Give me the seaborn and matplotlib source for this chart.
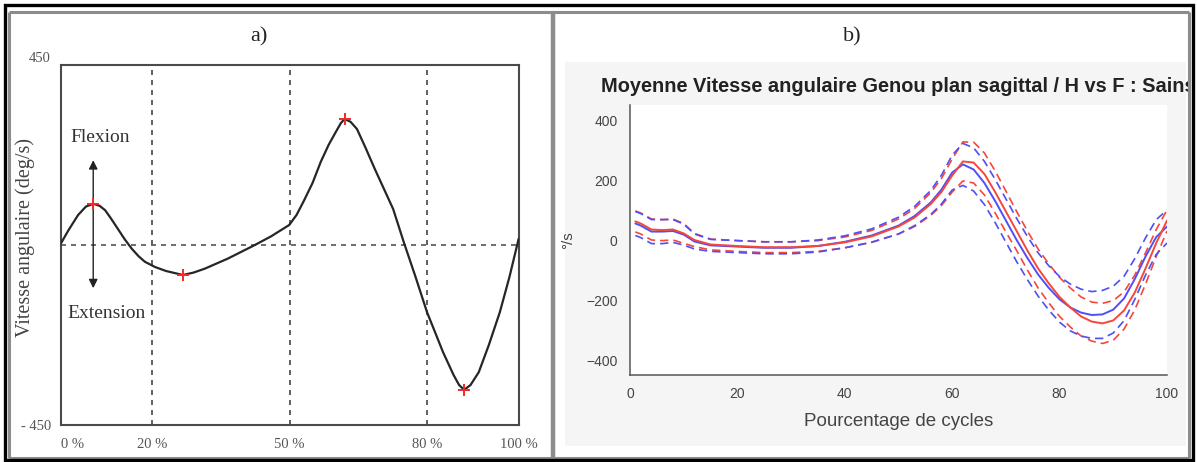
import matplotlib
matplotlib.use("Agg")
import matplotlib.pyplot as plt
import numpy as np
import seaborn as sns
from matplotlib.patches import Rectangle
from matplotlib.lines import Line2D
from matplotlib.transforms import Bbox, TransformedBbox

# ---------------- panel a) : schematic knee angular velocity ----------------
cycle_a = [0, 1.7, 3.8, 5.5, 7.1, 8.5, 9.7, 11, 12.5, 14, 15.5, 17, 18.4, 20.6, 23,
           26.7, 29, 31.5, 36.5, 42.4, 46, 49.9, 51.5, 53.0, 55, 56.8, 58.5, 60.1,
           61.2, 62.0, 63.3, 64.7, 66.5, 68.6, 70.6, 72.6, 74.9, 77.5, 80.0, 82,
           83.5, 85.8, 87, 88.1, 89.5, 91.3, 93.5, 95.9, 98, 100]
vel_a = [3, 37, 75, 96, 103, 98, 87, 66, 40, 14, -9, -28, -42, -55, -65,
         -75, -69, -59, -34, 0, 22, 50, 75, 108, 155, 208, 250, 283,
         305, 315, 308, 290, 245, 190, 140, 90, 8, -80, -168, -225,
         -268, -325, -350, -362, -350, -318, -250, -168, -80, 15]
peaks_x = [7.1, 26.7, 62.0, 88.1]
peaks_y = [103, -75, 315, -362]
phase_lines = [20, 50, 80]
xticks_a = [0, 20, 50, 80, 100]
xlabels_a = ["0 %", "20 %", "50 %", "80 %", "100 %"]
yticks_a = [450, -450]
ylabels_a = ["450", "- 450"]

# ---------------- panel b) : mean ± SD, men vs women ----------------
cycle_b = [1, 2, 4, 6, 8, 10, 12, 15, 20, 25, 30, 35, 40, 45, 50, 53, 56, 58, 60,
           62, 64, 66, 68, 70, 72, 74, 76, 78, 80, 82, 84, 86, 88, 90, 92, 94,
           96, 98, 100]
mean_red = [62, 55, 35, 33, 35, 22, 0, -15, -20, -24, -24, -20, -8, 12, 45, 75,
            120, 160, 215, 262, 258, 220, 160, 95, 30, -35, -95, -145, -190,
            -225, -255, -272, -278, -268, -235, -175, -95, -10, 65]
sd_red = [35, 35, 35, 35, 35, 33, 22, 18, 18, 18, 18, 18, 18, 20, 25, 30, 38, 45,
          55, 65, 68, 70, 70, 68, 65, 65, 65, 65, 65, 65, 65, 65, 67, 66, 62, 58,
          52, 45, 35]
mean_blue = [55, 48, 28, 28, 30, 18, -5, -18, -22, -26, -26, -20, -6, 15, 48, 80,
             125, 168, 225, 252, 235, 190, 130, 65, 0, -60, -115, -160, -198,
             -225, -242, -250, -248, -232, -195, -130, -55, 10, 45]
sd_blue = [40, 40, 40, 40, 38, 35, 25, 20, 20, 20, 20, 20, 20, 22, 28, 32, 40, 48,
           58, 70, 72, 72, 72, 72, 72, 72, 72, 74, 76, 78, 78, 78, 80, 78, 74, 68,
           62, 58, 55]
xticks_b = [0, 20, 40, 60, 80, 100]
yticks_b = [-400, -200, 0, 200, 400]

RED = "#f5473a"
BLUE = "#4f4ff5"

W, H = 1197, 462
sns.set_style("white")
plt.rcParams["font.family"] = ["Liberation Serif", "DejaVu Serif"]

fig = plt.figure(figsize=(W / 100, H / 100), dpi=100)
fig.patch.set_facecolor("white")


def rect(l, t, r, b):
    return [l / W, 1 - b / H, (r - l) / W, (b - t) / H]


def fx(px):
    return px / W


def fy(py):
    return 1 - py / H


# light grey window background behind panel b
fig.add_artist(Rectangle((fx(565), fy(446)), fx(1186) - fx(565), fy(62) - fy(446),
                         transform=fig.transFigure, facecolor="#f5f5f5",
                         edgecolor="none", zorder=-5))

# ======================= panel a =======================
ax_a = fig.add_axes(rect(60.7, 65, 518.6, 425))
ax_a.set_facecolor("white")
for x in phase_lines:
    ax_a.axvline(x, color="#444444", lw=1.2, ls=(0, (3, 3)), zorder=1)
ax_a.axhline(0, color="#555555", lw=1.2, ls=(0, (3, 3)), zorder=1)

sns.lineplot(x=cycle_a, y=vel_a, ax=ax_a, color="#262626", lw=1.6, zorder=3)
sns.scatterplot(x=peaks_x, y=peaks_y, ax=ax_a, marker="+", color="#ee2a2a",
                s=70, linewidth=1.4, zorder=4)

ax_a.annotate("", xy=(7.1, 212), xytext=(7.1, -108),
              arrowprops=dict(arrowstyle="<|-|>", color="#222222", lw=1.0,
                              mutation_scale=13, shrinkA=0, shrinkB=0), zorder=2)
ax_a.text(8.6, 268, "Flexion", ha="center", va="center", fontsize=14, color="#333333")
ax_a.text(10.0, -172, "Extension", ha="center", va="center", fontsize=14,
          color="#333333")

ax_a.set_xlim(0, 100)
ax_a.set_ylim(-450, 450)
ax_a.set_xticks(xticks_a, xlabels_a)
ax_a.set_yticks(yticks_a, ylabels_a)
ax_a.tick_params(axis="both", length=0, labelsize=10.5, labelcolor="#555555")
ax_a.tick_params(axis="x", pad=9)
ax_a.tick_params(axis="y", pad=7)
xl = ax_a.get_xticklabels()
xl[0].set_ha("left")
ax_a.get_yticklabels()[0].set_va("bottom")
for s in ax_a.spines.values():
    s.set_color("#4a4a4a")
    s.set_linewidth(1.5)
ax_a.set_ylabel("Vitesse angulaire (deg/s)", fontsize=14.5, color="#444444")
ax_a.yaxis.set_label_coords((35 - 60.7) / 457.9, 0.52)
ax_a.set_xlabel("")

fig.text(fx(259), fy(37), "a)", ha="center", va="center", fontsize=16, color="#222222")
fig.text(fx(852), fy(37), "b)", ha="center", va="center", fontsize=16, color="#222222")

# ======================= panel b =======================
sans = ["Liberation Sans", "DejaVu Sans"]
ax_b = fig.add_axes(rect(630, 105, 1167, 375))
ax_b.set_facecolor("white")

mr, sr = np.array(mean_red), np.array(sd_red)
mb, sb = np.array(mean_blue), np.array(sd_blue)
dash = (0, (5, 3))
for y in (mr + sr, mr - sr):
    sns.lineplot(x=cycle_b, y=y, ax=ax_b, color=RED, lw=1.2, linestyle=dash)
for y in (mb + sb, mb - sb):
    sns.lineplot(x=cycle_b, y=y, ax=ax_b, color=BLUE, lw=1.2, linestyle=dash)
sns.lineplot(x=cycle_b, y=mb, ax=ax_b, color=BLUE, lw=1.4)
sns.lineplot(x=cycle_b, y=mr, ax=ax_b, color=RED, lw=1.4)

ax_b.set_xlim(0, 100)
ax_b.set_ylim(-450, 450)
ax_b.set_xticks(xticks_b)
ax_b.set_yticks(yticks_b)
ax_b.tick_params(axis="both", direction="in", length=4, width=1, color="#555555",
                 labelsize=10, labelcolor="#444444")
ax_b.tick_params(axis="x", pad=9)
ax_b.tick_params(axis="y", pad=9)
for lab in ax_b.get_xticklabels() + ax_b.get_yticklabels():
    lab.set_family(sans)
ax_b.spines["top"].set_visible(False)
ax_b.spines["right"].set_visible(False)
for side in ("left", "bottom"):
    ax_b.spines[side].set_color("#555555")
    ax_b.spines[side].set_linewidth(1.1)

ax_b.set_xlabel("Pourcentage de cycles", family=sans, fontsize=13.5, color="#444444")
ax_b.xaxis.set_label_coords(0.5, -(422 - 375) / 270)
ax_b.xaxis.label.set_va("center")
ax_b.set_ylabel("°/s", family=sans, fontsize=11, color="#444444")
ax_b.yaxis.set_label_coords((568 - 630) / 537, 0.5)
ax_b.yaxis.label.set_va("center")

title = ax_b.set_title("Moyenne Vitesse angulaire Genou plan sagittal / H vs F : Sains",
                       family=sans, fontweight="bold", fontsize=14.4, color="#222222",
                       pad=9)
title.set_clip_box(TransformedBbox(Bbox([[fx(556), 0], [fx(1189), 1]]), fig.transFigure))
title.set_clip_on(True)

# ======================= frames =======================
def fline(xs, ys, color, lw):
    fig.add_artist(Line2D([fx(v) for v in xs], [fy(v) for v in ys],
                          transform=fig.transFigure, color=color, lw=lw, zorder=20,
                          solid_capstyle="butt"))

grey = "#8c8c8c"
fline([9, 1189], [12, 12], grey, 2.2)
fline([9, 1189], [458, 458], grey, 2.2)
fline([9, 9], [12, 458], grey, 2.2)
fline([1189, 1189], [12, 458], grey, 2.2)
fline([553, 553], [12, 458], grey, 3.2)
fig.add_artist(Rectangle((fx(5), fy(460)), fx(1193) - fx(5), fy(5) - fy(460),
                         transform=fig.transFigure, facecolor="none",
                         edgecolor="black", lw=2.4, zorder=21))

fig.savefig("out.png", dpi=100, facecolor="white")
